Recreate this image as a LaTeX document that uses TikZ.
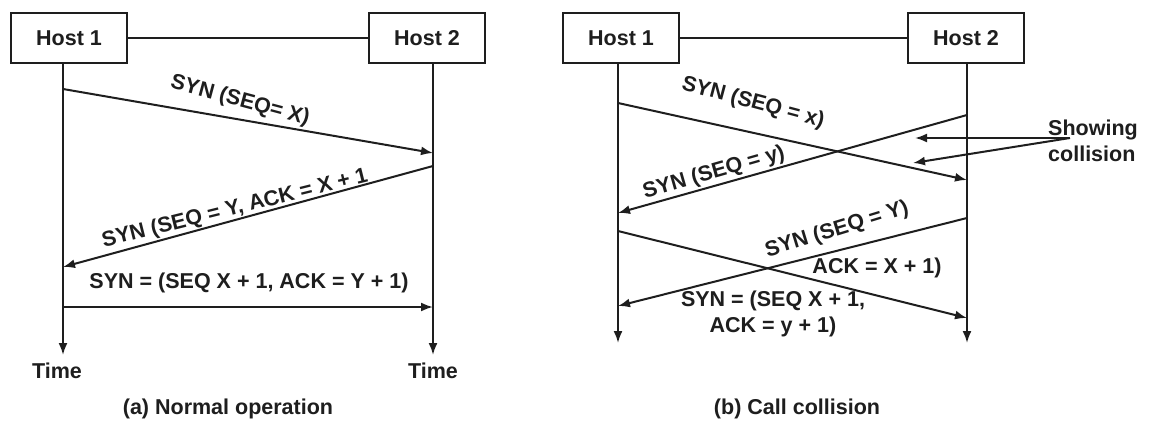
\documentclass[tikz,border=0pt]{standalone}
\usepackage{fontspec}
\setmainfont{Liberation Sans}
\usetikzlibrary{arrows.meta}
\definecolor{ink}{HTML}{1E1E1E}
\begin{document}
\begin{tikzpicture}[x=1pt,y=-1pt,
  every node/.style={font=\fontsize{21.5}{26}\selectfont\bfseries, text=ink},
  host/.style={draw=ink, line width=2pt, minimum width=116pt, minimum height=50pt, inner sep=0pt},
  ln/.style={draw=ink, line width=2pt},
  msg/.style={ln, -{Latex[length=12pt,width=9pt]}},
  lbl/.style={inner sep=0pt}]
\useasboundingbox (0,0) rectangle (1150,422);
\fill[white] (0,0) rectangle (1150,422);

% ---------- (a) Normal operation ----------
\node[host] (ha1) at (69,38) {Host 1};
\node[host] (ha2) at (427,38) {Host 2};
\draw[ln] (ha1.east) -- (ha2.west);

\coordinate (a1t) at (63,63);  \coordinate (a1b) at (63,355);
\coordinate (a2t) at (433,63); \coordinate (a2b) at (433,355);
\draw[msg] (a1t) -- (a1b);
\draw[msg] (a2t) -- (a2b);

\coordinate (am1s) at (63,89);   \coordinate (am1e) at (433,153);
\coordinate (am2s) at (433,166); \coordinate (am2e) at (63,267);
\coordinate (am3s) at (63,307);  \coordinate (am3e) at (433,307);
\draw[msg] (am1s) -- (am1e);
\draw[msg] (am2s) -- (am2e);
\draw[msg] (am3s) -- (am3e);

\node[lbl, rotate=-15] (la1) at (240,101) {SYN (SEQ= X)};
\node[lbl, rotate=14] (la2) at (235,209) {SYN (SEQ = Y, ACK = X + 1};
\node[lbl] (la3) at (249,283) {SYN = (SEQ X + 1, ACK = Y + 1)};

\node[lbl] (ta1) at (57,371) {Time};
\node[lbl] (ta2) at (433,371) {Time};
\node[lbl] (capa) at (228,409) {(a) Normal operation};

% ---------- (b) Call collision ----------
\node[host] (hb1) at (621,38) {Host 1};
\node[host] (hb2) at (966,38) {Host 2};
\draw[ln] (hb1.east) -- (hb2.west);

\coordinate (b1t) at (618,63);  \coordinate (b1b) at (618,343);
\coordinate (b2t) at (967,63);  \coordinate (b2b) at (967,343);
\draw[msg] (b1t) -- (b1b);
\draw[msg] (b2t) -- (b2b);

\coordinate (bm1s) at (618,103); \coordinate (bm1e) at (967,180);
\coordinate (bm2s) at (967,115); \coordinate (bm2e) at (618,213);
\coordinate (bm3s) at (967,218); \coordinate (bm3e) at (618,306);
\coordinate (bm4s) at (618,231); \coordinate (bm4e) at (967,318);
\draw[msg] (bm1s) -- (bm1e);
\draw[msg] (bm2s) -- (bm2e);
\draw[msg] (bm3s) -- (bm3e);
\draw[msg] (bm4s) -- (bm4e);

\node[lbl, rotate=-15] (lb1) at (753,103) {SYN (SEQ = x)};
\node[lbl, rotate=16] (lb2) at (714,173) {SYN (SEQ = y)};
\node[lbl, rotate=17] (lb3) at (837,230) {SYN (SEQ = Y)};
\node[lbl] (lb4) at (877,268) {ACK = X + 1)};
\node[lbl, align=center] (lb5) at (773,314) {SYN = (SEQ X + 1,\\ACK = y + 1)};

\node[lbl, align=left, anchor=west] (coll) at (1048,141) {Showing\\collision};
\coordinate (cs) at (1070,138);
\coordinate (ct1) at (915,138);
\coordinate (ct2) at (913,163);
\draw[msg] (cs) -- (ct1);
\draw[msg] (cs) -- (ct2);

\node[lbl] (capb) at (797,409) {(b) Call collision};
\end{tikzpicture}
\end{document}
